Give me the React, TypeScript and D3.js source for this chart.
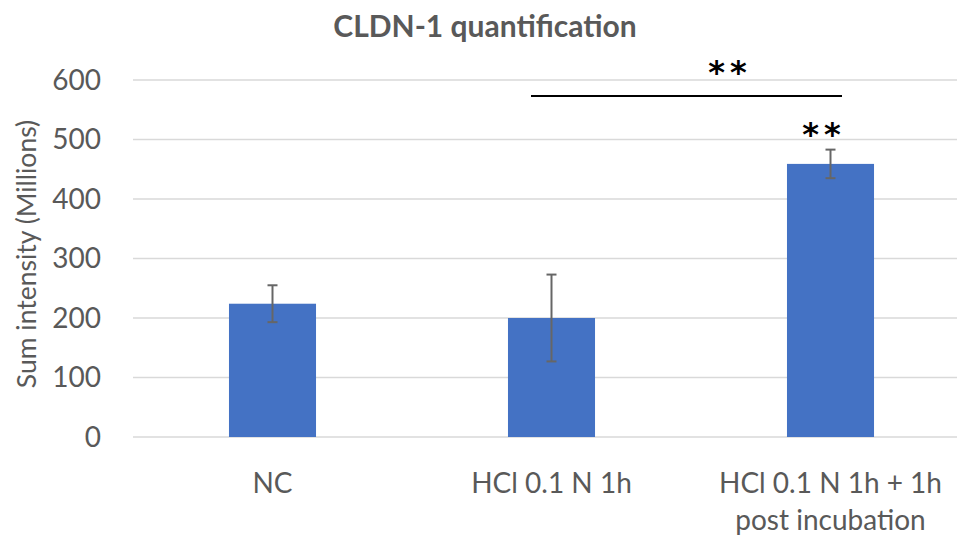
import React from "react";
import * as d3 from "d3";

const categories = ["NC", "HCl 0.1 N 1h", "HCl 0.1 N 1h + 1h post incubation"];
const labelLines = [["NC"], ["HCl 0.1 N 1h"], ["HCl 0.1 N 1h + 1h", "post incubation"]];
const values = [224, 200, 459];
const errors = [31, 73, 24];
const yTicks = [0, 100, 200, 300, 400, 500, 600];

const FONT = "Lato, 'Open Sans', sans-serif";
const TEXT = "#595959";

const App: React.FC = () => {
  const width = 957;
  const height = 535;
  const margin = { top: 80, right: -13, bottom: 98, left: 133 };

  const x = d3.scaleBand<string>()
    .domain(categories)
    .range([margin.left, width - margin.right])
    .padding(0);

  const barW = x.bandwidth() * 0.312;

  const y = d3.scaleLinear()
    .domain([0, 600])
    .range([height - margin.bottom, margin.top]);

  const cx = (c: string) => (x(c) ?? 0) + x.bandwidth() / 2;

  return (
    <svg width={width} height={height} style={{ position: "absolute", left: 0, top: 0, background: "#fff" }}>
      {/* titulo */}
      <text x={485} y={37} textAnchor="middle" fontFamily={FONT} fontWeight="bold" fontSize={30} fill={TEXT}>
        CLDN-1 quantification
      </text>

      {/* grid + ticks */}
      {yTicks.map(t => (
        <g key={t}>
          <line x1={margin.left} x2={width} y1={y(t)} y2={y(t)} stroke="#d9d9d9" strokeWidth={1.5} />
          <text x={101} y={y(t)} dy="0.35em" textAnchor="end" fontFamily={FONT} fontSize={28} fill={TEXT}>
            {t}
          </text>
        </g>
      ))}

      {/* titulo eje y */}
      <text
        transform={`translate(27,${254}) rotate(-90)`}
        dy="0.35em"
        textAnchor="middle"
        fontFamily={FONT}
        fontSize={26.5}
        fill={TEXT}
      >
        Sum intensity (Millions)
      </text>

      {/* barras */}
      {categories.map((c, i) => (
        <rect
          key={c}
          x={cx(c) - barW / 2}
          y={y(values[i])}
          width={barW}
          height={y(0) - y(values[i])}
          fill="#4472C4"
        />
      ))}

      {/* barras de error */}
      {categories.map((c, i) => {
        const hi = y(values[i] + errors[i]);
        const lo = y(values[i] - errors[i]);
        return (
          <g key={c} stroke="#666" strokeWidth={2}>
            <line x1={cx(c)} x2={cx(c)} y1={hi} y2={lo} />
            <line x1={cx(c) - 5} x2={cx(c) + 5} y1={hi} y2={hi} />
            <line x1={cx(c) - 5} x2={cx(c) + 5} y1={lo} y2={lo} />
          </g>
        );
      })}

      {/* etiquetas eje x */}
      {categories.map((c, i) => (
        <text key={c} x={cx(c)} y={493} textAnchor="middle" fontFamily={FONT} fontSize={28} fill={TEXT}>
          {labelLines[i].map((l, j) => (
            <tspan key={j} x={cx(c)} dy={j === 0 ? 0 : 37}>{l}</tspan>
          ))}
        </text>
      ))}

      {/* significancia */}
      <line x1={531} x2={842} y1={96} y2={96} stroke="#000" strokeWidth={2} />
      <text x={730} y={83} textAnchor="middle" fontFamily="'DejaVu Sans', sans-serif" fontWeight="bold" fontSize={32} letterSpacing={5} fill="#000">**</text>
      <text x={824} y={145} textAnchor="middle" fontFamily="'DejaVu Sans', sans-serif" fontWeight="bold" fontSize={32} letterSpacing={5} fill="#000">**</text>
    </svg>
  );
};

export default App;
